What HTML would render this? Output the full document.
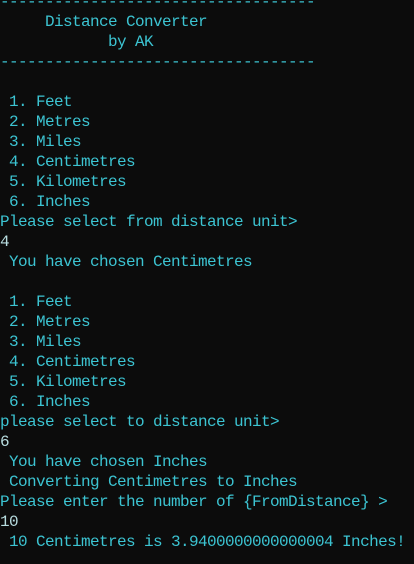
<!DOCTYPE html>
<html><head><meta charset="utf-8"><style>
html,body{margin:0;padding:0;background:#0c0c0c;width:414px;height:564px;overflow:hidden}
pre{margin:0;position:absolute;left:0;top:-8px;font-family:"Liberation Mono",monospace;font-size:16px;line-height:20px;color:#3cc4d2;letter-spacing:-0.6px}
.i{color:#b8dde0}
</style></head><body><pre>-----------------------------------
     Distance Converter
            by AK
-----------------------------------

 1. Feet
 2. Metres
 3. Miles
 4. Centimetres
 5. Kilometres
 6. Inches
Please select from distance unit&gt;
<span class="i">4</span>
 You have chosen Centimetres

 1. Feet
 2. Metres
 3. Miles
 4. Centimetres
 5. Kilometres
 6. Inches
please select to distance unit&gt;
<span class="i">6</span>
 You have chosen Inches
 Converting Centimetres to Inches
Please enter the number of {FromDistance} &gt;
<span class="i">10</span>
 10 Centimetres is 3.9400000000000004 Inches!
</pre></body></html>
